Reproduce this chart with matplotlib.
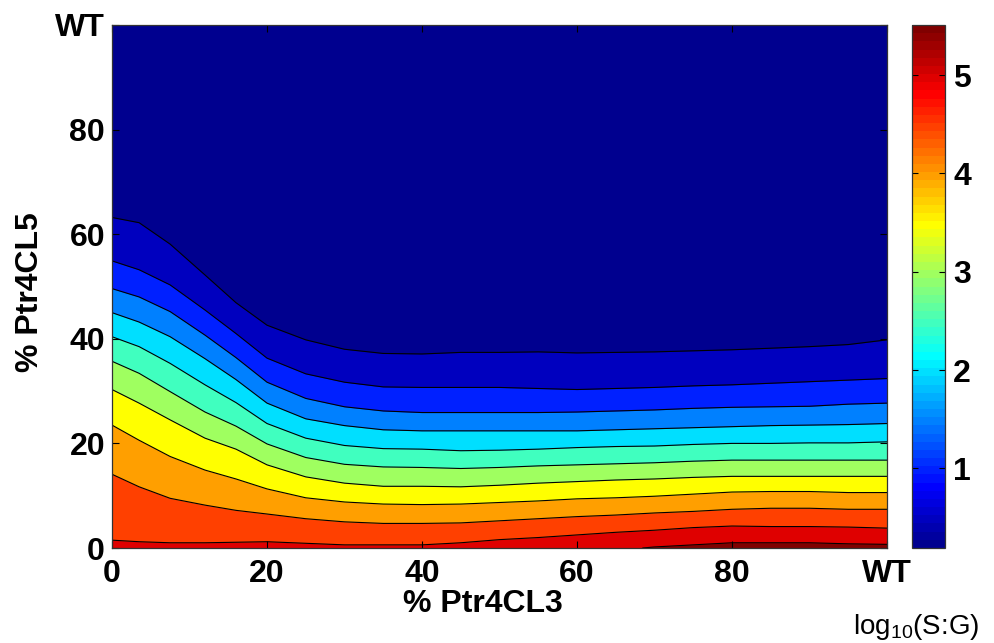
import numpy as np
import matplotlib
matplotlib.use("Agg")
import matplotlib.pyplot as plt
from matplotlib.colors import ListedColormap, Normalize
from matplotlib.cm import ScalarMappable

plt.rcParams['font.family'] = ['Liberation Sans', 'DejaVu Sans']
plt.rcParams['mathtext.fontset'] = 'custom'
plt.rcParams['mathtext.rm'] = 'Liberation Sans'

# ---- data (contour line heights, % Ptr4CL5) ----
x_pct = [0, 3.5, 7.5, 12, 16, 20, 25, 30, 35, 40, 45, 50, 55, 60, 65, 70, 75, 80, 85, 90, 95, 100]
y_0p5 = [63.2, 62.2, 58.1, 52.2, 46.9, 42.6, 39.8, 38.0, 37.2, 37.1, 37.4, 37.4, 37.5, 37.3, 37.4, 37.5, 37.7, 37.9, 38.2, 38.5, 38.9, 39.8]
y_1p0 = [54.9, 53.2, 50.3, 45.5, 41.0, 36.3, 33.3, 31.7, 30.8, 30.7, 30.7, 30.7, 30.5, 30.3, 30.5, 30.7, 31.0, 31.2, 31.5, 31.8, 32.1, 32.4]
y_1p5 = [49.6, 48.0, 45.2, 40.7, 36.4, 31.7, 28.6, 27.0, 26.2, 25.9, 25.9, 25.9, 25.9, 26.0, 26.2, 26.4, 26.7, 26.9, 27.0, 27.1, 27.5, 27.7]
y_2p0 = [45.0, 43.2, 40.4, 36.2, 32.2, 27.7, 24.7, 23.4, 22.6, 22.4, 22.4, 22.4, 22.4, 22.4, 22.6, 22.8, 23.0, 23.2, 23.4, 23.5, 23.6, 23.8]
y_2p5 = [40.4, 38.5, 35.3, 31.2, 27.8, 23.8, 21.0, 19.6, 19.0, 18.9, 18.6, 18.7, 18.9, 19.2, 19.4, 19.5, 19.8, 20.0, 20.0, 20.1, 20.1, 20.3]
y_3p0 = [35.7, 33.4, 29.9, 26.0, 23.3, 19.9, 17.3, 16.0, 15.5, 15.4, 15.2, 15.4, 15.7, 15.9, 16.1, 16.3, 16.6, 16.8, 16.8, 16.8, 16.8, 16.8]
y_3p5 = [30.3, 27.7, 24.5, 21.0, 18.9, 15.9, 13.6, 12.4, 11.8, 11.8, 11.7, 12.0, 12.4, 12.7, 13.0, 13.2, 13.5, 13.7, 13.7, 13.7, 13.7, 13.7]
y_4p0 = [23.5, 20.6, 17.5, 14.9, 13.2, 11.3, 9.6, 8.8, 8.4, 8.3, 8.4, 8.7, 9.0, 9.4, 9.6, 9.9, 10.3, 10.7, 10.8, 10.8, 10.6, 10.6]
y_4p5 = [14.1, 11.7, 9.5, 8.2, 7.2, 6.5, 5.6, 5.0, 4.7, 4.7, 4.8, 5.2, 5.6, 6.0, 6.3, 6.7, 7.0, 7.4, 7.6, 7.6, 7.4, 7.4]
y_5p0 = [1.5, 1.2, 1.0, 1.0, 1.1, 1.2, 0.9, 0.6, 0.6, 0.6, 1.0, 1.6, 2.0, 2.5, 3.0, 3.4, 3.9, 4.2, 4.1, 4.1, 4.0, 3.8]
x_5p5 = [68.5, 70, 75, 80, 85, 90, 95, 100]
y_5p5 = [0.0, 0.2, 0.6, 1.0, 1.0, 1.0, 0.8, 0.7]

levels = [0.5, 1.0, 1.5, 2.0, 2.5, 3.0, 3.5, 4.0, 4.5, 5.0]
level_lines = [y_0p5, y_1p0, y_1p5, y_2p0, y_2p5, y_3p0, y_3p5, y_4p0, y_4p5, y_5p0]
top_level = 5.5
cmin, cmax = 0.19, 5.51

tick_vals = [0, 20, 40, 60, 80, 100]
tick_labels = ['0', '20', '40', '60', '80', 'WT']
cbar_ticks = [1, 2, 3, 4, 5]

# ---- MATLAB jet(64) colormap ----
def matlab_jet(m=64):
    n = int(np.ceil(m / 4))
    u = np.concatenate([np.arange(1, n + 1) / n, np.ones(n - 1), np.arange(n, 0, -1) / n])
    g = int(np.ceil(n / 2)) - (1 if m % 4 == 1 else 0) + np.arange(1, len(u) + 1)
    r = g + n
    b = g - n
    J = np.zeros((m, 3))
    ok = r <= m
    J[r[ok] - 1, 0] = u[ok]
    ok = g <= m
    J[g[ok] - 1, 1] = u[ok]
    ok = b > 0
    J[b[ok] - 1, 2] = u[ok]
    return J

jet = matlab_jet(64)
cmap = ListedColormap(jet)

def band_color(v):
    idx = int(np.floor((v - cmin) / (cmax - cmin) * 64))
    return jet[min(max(idx, 0), 63)]

fig = plt.figure(figsize=(9.95, 6.43), dpi=100)
ax = fig.add_axes([112 / 995, 1 - 548 / 643, 775 / 995, 523 / 643])
ax.set_facecolor(band_color(cmin))

x = np.array(x_pct)
for lv, yl in zip(levels, level_lines):
    ax.fill_between(x, 0, yl, color=band_color(lv), linewidth=0)
ax.fill_between(x_5p5, 0, y_5p5, color=band_color(top_level), linewidth=0)

for yl in level_lines:
    ax.plot(x, yl, color='black', linewidth=0.8)
ax.plot(x_5p5, y_5p5, color='black', linewidth=0.8)

ax.set_xlim(0, 100)
ax.set_ylim(0, 100)
ax.set_xticks(tick_vals)
ax.set_xticklabels(tick_labels)
ax.set_yticks(tick_vals)
ax.set_yticklabels(tick_labels)
ax.tick_params(direction='in', length=5, width=0.8, top=True, right=True,
               labelsize=23, pad=8, colors='black')
for lab in ax.get_xticklabels() + ax.get_yticklabels():
    lab.set_fontweight('bold')
ax.tick_params(axis='y', pad=5)
for sp in ax.spines.values():
    sp.set_color('#333333')
    sp.set_linewidth(0.9)

ax.set_xlabel('% Ptr4CL3', fontsize=23, fontweight='bold', va='center')
ax.xaxis.set_label_coords((483 - 112) / 775, (548 - 604) / 523)
ax.set_ylabel('% Ptr4CL5', fontsize=23, fontweight='bold', va='center')
ax.yaxis.set_label_coords((30 - 112) / 775, (548 - 292) / 523)

cax = fig.add_axes([912 / 995, 1 - 548 / 643, 33 / 995, 523 / 643])
sm = ScalarMappable(norm=Normalize(cmin, cmax), cmap=cmap)
cb = fig.colorbar(sm, cax=cax, ticks=cbar_ticks)
cb.outline.set_edgecolor('#333333')
cb.outline.set_linewidth(0.9)
cax.tick_params(direction='in', length=4, width=0.8, left=True, right=True,
                labelsize=23, pad=6)
for lab in cax.get_yticklabels():
    lab.set_fontweight('bold')

fig.text(916 / 995, 1 - 627 / 643, r'log$_{\mathregular{10}}$(S:G)', fontsize=20,
         ha='center', va='center')

fig.savefig('out.png', dpi=100)
